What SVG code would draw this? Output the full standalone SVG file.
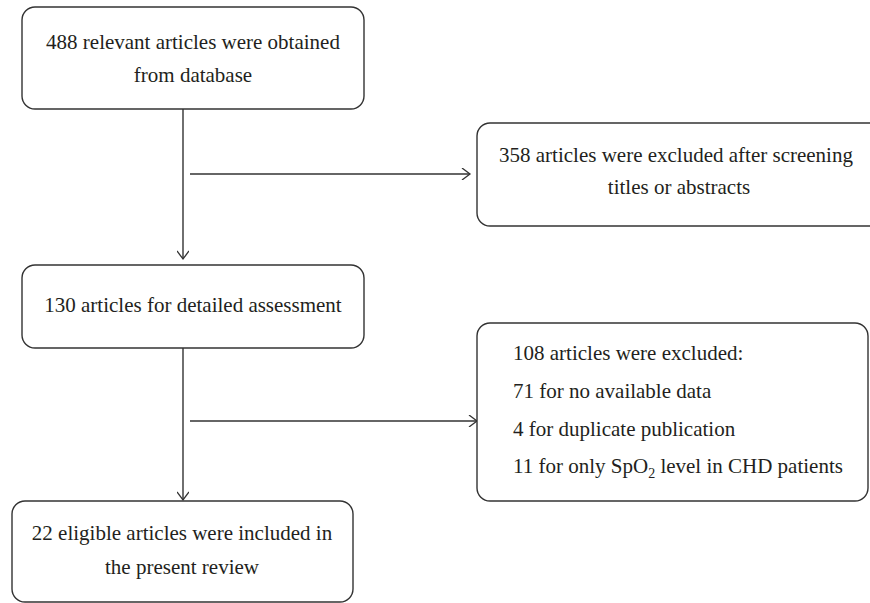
<svg xmlns="http://www.w3.org/2000/svg" width="870" height="603" viewBox="0 0 870 603">
<defs>
<marker id="arr" markerWidth="12" markerHeight="12" refX="9" refY="6" orient="auto" markerUnits="userSpaceOnUse">
<path d="M1,0 L9,6 L1,12" fill="none" stroke="#333" stroke-width="1.3"/>
</marker>
<style>
.box{fill:#fff;stroke:#333;stroke-width:1.4}
.t{font-family:"Liberation Serif","Times New Roman",serif;font-size:21px;fill:#231f20}
.c{text-anchor:middle}
.ln{fill:none;stroke:#333;stroke-width:1.4}
</style>
</defs>
<g id="connectors">
<line class="ln" x1="183" y1="109" x2="183" y2="259" marker-end="url(#arr)"/>
<line class="ln" x1="190" y1="174" x2="470" y2="174" marker-end="url(#arr)"/>
<line class="ln" x1="183" y1="348" x2="183" y2="500" marker-end="url(#arr)"/>
<line class="ln" x1="190" y1="421" x2="477" y2="421" marker-end="url(#arr)"/>
</g>
<g id="n1">
<rect class="box" x="22" y="7" width="342" height="102" rx="13"/>
<text class="t c" x="193" y="49">488 relevant articles were obtained</text>
<text class="t c" x="193" y="82">from database</text>
</g>
<g id="n2">
<rect class="box" x="477" y="123" width="420" height="103" rx="13"/>
<text class="t c" x="676" y="162">358 articles were excluded after screening</text>
<text class="t c" x="679" y="194">titles or abstracts</text>
</g>
<g id="n3">
<rect class="box" x="22" y="265" width="342" height="83" rx="13"/>
<text class="t c" x="193" y="312">130 articles for detailed assessment</text>
</g>
<g id="n4">
<rect class="box" x="477" y="323" width="391" height="178" rx="13"/>
<text class="t" x="513" y="360">108 articles were excluded:</text>
<text class="t" x="513" y="398">71 for no available data</text>
<text class="t" x="513" y="436">4 for duplicate publication</text>
<text class="t" x="513" y="473">11 for only SpO<tspan font-size="14" dy="5">2</tspan><tspan dy="-5"> level in CHD patients</tspan></text>
</g>
<g id="n5">
<rect class="box" x="12" y="501" width="341" height="101" rx="13"/>
<text class="t c" x="182" y="540">22 eligible articles were included in</text>
<text class="t c" x="182" y="574">the present review</text>
</g>
</svg>
